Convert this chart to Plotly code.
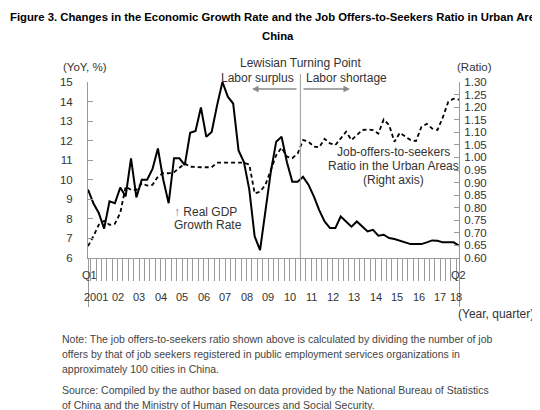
import plotly.graph_objects as go

# Real GDP growth, YoY % (left axis), 2001Q1 - 2018Q2
gdp_growth = [9.5, 8.8, 8.3, 7.5, 8.9, 8.8, 9.6, 9.15, 11.1, 9.1,
              10.0, 10.0, 10.55, 11.6, 10.0, 8.8, 11.1, 11.1, 10.75, 12.4,
              12.5, 13.7, 12.2, 12.45, 13.8, 15.0, 14.25, 13.9, 11.5, 10.9,
              9.5, 7.1, 6.4, 8.3, 10.4, 11.95, 12.2, 10.9, 9.9, 9.9,
              10.15, 9.75, 9.15, 8.45, 7.87, 7.53, 7.53, 8.12, 7.87, 7.6,
              7.87, 7.6, 7.36, 7.44, 7.14, 7.19, 7.02, 6.97, 6.88, 6.8,
              6.71, 6.71, 6.71, 6.8, 6.9, 6.88, 6.8, 6.8, 6.8, 6.63]

# job offers-to-seekers ratio, urban areas (right axis)
job_ratio = [0.647, 0.686, 0.732, 0.748, 0.732, 0.736, 0.779, 0.884, 0.871, 0.871,
             0.897, 0.888, 0.891, 0.924, 0.937, 0.937, 0.941, 0.957, 0.976, 0.963,
             0.961, 0.961, 0.961, 0.961, 0.979, 0.979, 0.979, 0.979, 0.979, 0.979,
             0.972, 0.857, 0.864, 0.891, 0.95, 1.009, 1.039, 1.003, 0.997, 1.016,
             1.069, 1.063, 1.043, 1.04, 1.074, 1.056, 1.049, 1.074, 1.102, 1.069,
             1.088, 1.109, 1.111, 1.109, 1.095, 1.151, 1.129, 1.062, 1.098, 1.082,
             1.069, 1.065, 1.121, 1.134, 1.115, 1.109, 1.16, 1.221, 1.234, 1.23]

year_labels = ["2001", "02", "03", "04", "05", "06", "07", "08", "09",
               "10", "11", "12", "13", "14", "15", "16", "17", "18"]
quarters_per_year = [4] * 17 + [2]
turning_year = "11"  # Lewisian turning point, start of 2011

notes = [
    "Note: The job offers-to-seekers ratio shown above is calculated by dividing the number of job",
    "offers by that of job seekers registered in public employment services organizations in",
    "approximately 100 cities in China.",
]
source = [
    "Source: Compiled by the author based on data provided by the National Bureau of Statistics",
    "of China and the Ministry of Human Resources and Social Security.",
]

FONT = "Liberation Sans, Arial, sans-serif"
PAGE_OFF = 8  # the page body has an 8px margin, so the figure is drawn that much smaller
W, H = 540 - PAGE_OFF, 410 - PAGE_OFF
L, R, T, B = 80, 81, 74, 152
PW, PH = W - L - R, H - T - B


# positions below are given in page pixels
def px(x):
    return (x - PAGE_OFF - L) / PW


def py(y):
    return (H - B - (y - PAGE_OFF)) / PH


x = list(range(len(gdp_growth)))

# year boundaries and label centres in quarter index units
starts = []
pos = 0
for n in quarters_per_year:
    starts.append(pos)
    pos += n
boundaries = [s - 0.5 for s in starts[1:]]
centres = [s + (n - 1) / 2 for s, n in zip(starts, quarters_per_year)]
turning_x = starts[year_labels.index(turning_year)] - 0.5

fig = go.Figure()
fig.add_trace(go.Scatter(x=x, y=gdp_growth, mode="lines",
                         line=dict(color="black", width=2), yaxis="y"))
fig.add_trace(go.Scatter(x=x, y=job_ratio, mode="lines",
                         line=dict(color="black", width=1.8, dash="4px,3px"), yaxis="y2"))

ann = []


def text(s, x0, y0, xanchor="left", size=12, color="#333", bold=False):
    if bold:
        s = "<b>" + s + "</b>"
    ann.append(dict(text=s, x=px(x0), y=py(y0), xref="paper", yref="paper",
                    xanchor=xanchor, yanchor="middle", showarrow=False,
                    font=dict(family=FONT, size=size, color=color)))


text("Figure 3. Changes in the Economic Growth Rate and the Job Offers-to-Seekers Ratio in Urban Areas of",
     8, 17, size=11.3, color="black", bold=True)
text("China", 278, 36, xanchor="center", size=11.3, color="black", bold=True)
text("(YoY, %)", 61, 67, size=11.5)
text("(Ratio)", 455, 67, size=11.5)
text("Lewisian Turning Point", 300, 63, xanchor="center")
text("Labor surplus", 296, 78, xanchor="right")
text("Labor shortage", 304, 78)
text("<span style='color:#5f86b5'>\u2191</span> Real GDP", 172, 212)
text("Growth Rate", 172, 225)
text("Job-offers-to-seekers", 393, 152, xanchor="center")
text("Ratio in the Urban Areas", 393, 166, xanchor="center")
text("(Right axis)", 393, 180, xanchor="center")
text("Q1", 89, 275, xanchor="center", size=11)
text("Q2", 458, 275, xanchor="center", size=11)
text("(Year, quarter)", 536, 314, xanchor="right", size=12)
for i, s in enumerate(notes):
    text(s, 60, 339 + 15 * i, size=10.5, color="#444")
for i, s in enumerate(source):
    text(s, 60, 390 + 15 * i, size=10.5, color="#444")

for lab, c in zip(year_labels, centres):
    ann.append(dict(text=lab, x=c, y=py(297), xref="x", yref="paper",
                    xanchor="center", yanchor="middle", showarrow=False,
                    font=dict(family=FONT, size=11, color="#333")))

# arrows either side of the turning point
for head, tail in ((252, 298), (350, 302)):
    ann.append(dict(text="", x=px(head), y=py(89), xref="paper", yref="paper",
                    ax=tail - head, ay=0, showarrow=True, arrowhead=2,
                    arrowsize=1, arrowwidth=1.3, arrowcolor="#8a8a8a"))

shapes = [
    dict(type="line", xref="x", yref="paper", x0=turning_x, x1=turning_x,
         y0=0, y1=py(74), line=dict(color="#9a9a9a", width=1)),
]

fig.update_layout(
    width=W, height=H,
    margin=dict(l=L, r=R, t=T, b=B),
    paper_bgcolor="white", plot_bgcolor="white",
    showlegend=False,
    font=dict(family=FONT, size=11, color="#333"),
    annotations=ann, shapes=shapes,
    xaxis=dict(range=[0, len(x) - 1], showgrid=False, zeroline=False,
               showline=True, linecolor="#9a9a9a", linewidth=1,
               tickmode="array", tickvals=[0] + boundaries + [len(x) - 1],
               ticktext=[""] * (len(boundaries) + 2),
               ticks="outside", ticklen=48, tickcolor="#9a9a9a", tickwidth=1,
               minor=dict(tickmode="array", tickvals=[i + 0.5 for i in x[:-1]],
                          ticks="outside", ticklen=22, tickcolor="#9a9a9a", tickwidth=1)),
    yaxis=dict(range=[6, 15], dtick=1, showgrid=False, zeroline=False,
               showline=True, linecolor="#9a9a9a", linewidth=1,
               ticks="inside", ticklen=5, tickcolor="#9a9a9a",
               ticklabelstandoff=12, tickfont=dict(size=11.5, color="#333")),
    yaxis2=dict(range=[0.6, 1.3], dtick=0.05, tickformat=".2f", overlaying="y",
                side="right", showgrid=False, zeroline=False,
                showline=True, linecolor="#9a9a9a", linewidth=1,
                ticks="inside", ticklen=5, tickcolor="#9a9a9a",
                ticklabelstandoff=2, tickfont=dict(size=11.5, color="#333")),
)

fig.write_html("out.html")
